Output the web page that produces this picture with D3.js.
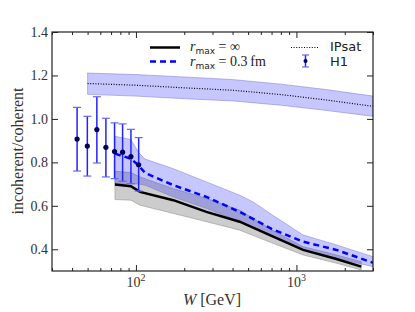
<!DOCTYPE html>
<html>
<head>
<meta charset="utf-8">
<script src="https://cdn.jsdelivr.net/npm/d3@7"></script>
<style>
body { margin:0; background:#fff; }
</style>
</head>
<body>
<script>
var width = 415, height = 312;
var SERIF = "Liberation Serif, DejaVu Serif, serif";
var SANS = "DejaVu Sans, Liberation Sans, sans-serif";

// H1 data
var h1W    = [43, 49.8, 57.1, 65, 73.6, 82.6, 93.1, 104];
var h1Val  = [0.907, 0.875, 0.951, 0.869, 0.850, 0.847, 0.827, 0.789];
var h1Lo   = [0.760, 0.737, 0.797, 0.733, 0.725, 0.713, 0.702, 0.668];
var h1Hi   = [1.053, 1.012, 1.102, 1.003, 0.982, 0.977, 0.952, 0.914];

// IPsat
var ipW    = [50, 100, 200, 400, 800, 1500, 3000];
var ipVal  = [1.163, 1.155, 1.143, 1.132, 1.112, 1.088, 1.058];
var ipHi   = [1.211, 1.204, 1.193, 1.181, 1.160, 1.136, 1.105];
var ipLo   = [1.113, 1.105, 1.093, 1.083, 1.063, 1.040, 1.012];

// r_max = inf
var infW   = [74, 93, 106, 171, 275, 443, 700, 1100, 1775, 2535];
var infVal = [0.698, 0.690, 0.664, 0.626, 0.572, 0.527, 0.462, 0.397, 0.355, 0.320];
var infHi  = [0.759, 0.753, 0.733, 0.679, 0.634, 0.580, 0.490, 0.412, 0.374, 0.343];
var infLo  = [0.629, 0.626, 0.603, 0.565, 0.527, 0.488, 0.430, 0.374, 0.336, 0.305];

// r_max = 0.3 fm
var r03W   = [74, 93, 104, 114, 171, 275, 443, 537, 700, 1100, 1775, 3000];
var r03Val = [0.840, 0.817, 0.786, 0.751, 0.695, 0.641, 0.572, 0.540, 0.494, 0.435, 0.397, 0.338];
var r03Hi  = [0.920, 0.905, 0.845, 0.815, 0.771, 0.710, 0.649, 0.618, 0.560, 0.466, 0.420, 0.366];
var r03Lo  = [0.700, 0.700, 0.700, 0.695, 0.641, 0.588, 0.527, 0.500, 0.458, 0.397, 0.359, 0.320];

var yTicks = [0.4, 0.6, 0.8, 1.0, 1.2, 1.4];

var svg = d3.select("body").append("svg")
            .attr("width", width).attr("height", height);

var x = d3.scaleLog().domain([30, 3000]).range([52, 373]);
var y = d3.scaleLinear().domain([0.3, 1.4]).range([271, 32]);

var defs = svg.append("defs");
defs.append("clipPath").attr("id", "clip")
    .append("rect").attr("x", 52).attr("y", 32).attr("width", 321).attr("height", 239);

var plot = svg.append("g").attr("clip-path", "url(#clip)");

function band(ws, lo, hi) {
  return d3.area()
    .x(function(d, i) { return x(ws[i]); })
    .y0(function(d, i) { return y(lo[i]); })
    .y1(function(d, i) { return y(hi[i]); })(ws);
}
function line(ws, vs) {
  return d3.line()
    .x(function(d, i) { return x(ws[i]); })
    .y(function(d, i) { return y(vs[i]); })(ws);
}

// bands
plot.append("path").attr("d", band(infW, infLo, infHi))
    .attr("fill", "#000").attr("fill-opacity", 0.2)
    .attr("stroke", "#888").attr("stroke-opacity", 0.5).attr("stroke-width", 1);
plot.append("path").attr("d", band(r03W, r03Lo, r03Hi))
    .attr("fill", "#0000ff").attr("fill-opacity", 0.22)
    .attr("stroke", "#7777cc").attr("stroke-opacity", 0.5).attr("stroke-width", 1);
plot.append("path").attr("d", band(ipW, ipLo, ipHi))
    .attr("fill", "#0000ff").attr("fill-opacity", 0.22)
    .attr("stroke", "#7777cc").attr("stroke-opacity", 0.5).attr("stroke-width", 1);

// lines
plot.append("path").attr("d", line(ipW, ipVal))
    .attr("fill", "none").attr("stroke", "#000").attr("stroke-width", 1.2)
    .attr("stroke-dasharray", "1,1.6");
plot.append("path").attr("d", line(infW, infVal))
    .attr("fill", "none").attr("stroke", "#000").attr("stroke-width", 2.5);
plot.append("path").attr("d", line(r03W, r03Val))
    .attr("fill", "none").attr("stroke", "#0000ff").attr("stroke-width", 2.5)
    .attr("stroke-dasharray", "6,4");

// H1 error bars
var eb = plot.selectAll(".h1").data(h1W).enter().append("g").attr("class", "h1");
eb.append("line")
  .attr("x1", function(d) { return x(d); }).attr("x2", function(d) { return x(d); })
  .attr("y1", function(d, i) { return y(h1Lo[i]); })
  .attr("y2", function(d, i) { return y(h1Hi[i]); })
  .attr("stroke", "#2222ff").attr("stroke-width", 1.5);
[h1Lo, h1Hi].forEach(function(arr) {
  eb.append("line")
    .attr("x1", function(d) { return x(d) - 4; }).attr("x2", function(d) { return x(d) + 4; })
    .attr("y1", function(d, i) { return y(arr[i]); })
    .attr("y2", function(d, i) { return y(arr[i]); })
    .attr("stroke", "#6666ff").attr("stroke-width", 1.2);
});
eb.append("circle")
  .attr("cx", function(d) { return x(d); })
  .attr("cy", function(d, i) { return y(h1Val[i]); })
  .attr("r", 2.6).attr("fill", "#00005a");

// axes frame
svg.append("rect").attr("x", 52).attr("y", 32).attr("width", 321).attr("height", 239)
   .attr("fill", "none").attr("stroke", "#222").attr("stroke-width", 1.2);

var minor = [];
[10, 100, 1000].forEach(function(dec) {
  for (var k = 2; k <= 9; k++) {
    var v = dec * k;
    if (v >= 30 && v <= 3000) minor.push(v);
  }
});

var xBottom = d3.axisBottom(x).tickValues([100, 1000]).tickSize(-6).tickFormat("");
var xBottomMinor = d3.axisBottom(x).tickValues(minor).tickSize(-3).tickFormat("");
var xTop = d3.axisTop(x).tickValues([100, 1000]).tickSize(-6).tickFormat("");
var xTopMinor = d3.axisTop(x).tickValues(minor).tickSize(-3).tickFormat("");
var yLeft = d3.axisLeft(y).tickValues(yTicks).tickSize(-6).tickFormat("");
var yRight = d3.axisRight(y).tickValues(yTicks).tickSize(-6).tickFormat("");

[[xBottom, "translate(0,271)"], [xBottomMinor, "translate(0,271)"],
 [xTop, "translate(0,32)"], [xTopMinor, "translate(0,32)"],
 [yLeft, "translate(52,0)"], [yRight, "translate(373,0)"]].forEach(function(a) {
  var g = svg.append("g").attr("transform", a[1]).call(a[0]);
  g.select(".domain").remove();
  g.selectAll("line").attr("stroke", "#222");
});

// tick labels
svg.selectAll(".ylab").data(yTicks).enter().append("text")
   .attr("x", 48).attr("y", function(d) { return y(d) + 5; })
   .attr("text-anchor", "end").attr("font-size", 14).attr("fill", "#333")
   .attr("font-family", SERIF)
   .text(function(d) { return d.toFixed(1); });

[[100, "2"], [1000, "3"]].forEach(function(t) {
  var tx = svg.append("text").attr("x", x(t[0])).attr("y", 287)
     .attr("text-anchor", "middle").attr("font-size", 14).attr("fill", "#333")
     .attr("font-family", SERIF);
  tx.append("tspan").text("10");
  tx.append("tspan").attr("dy", -6).attr("font-size", 10).text(t[1]);
});

// axis labels
svg.append("text")
   .attr("transform", "translate(23,151) rotate(-90)")
   .attr("text-anchor", "middle").attr("font-size", 16).attr("fill", "#333")
   .attr("font-family", SERIF)
   .text("incoherent/coherent");

var xl = svg.append("text").attr("x", 212).attr("y", 305)
   .attr("text-anchor", "middle").attr("font-size", 16).attr("fill", "#333")
   .attr("font-family", SERIF);
xl.append("tspan").attr("font-style", "italic").text("W");
xl.append("tspan").text(" [GeV]");

// legend
var lg = svg.append("g");
lg.append("line").attr("x1", 150).attr("x2", 180).attr("y1", 47.5).attr("y2", 47.5)
  .attr("stroke", "#000").attr("stroke-width", 2.5);
lg.append("line").attr("x1", 150).attr("x2", 180).attr("y1", 61.5).attr("y2", 61.5)
  .attr("stroke", "#0000ff").attr("stroke-width", 2.5).attr("stroke-dasharray", "6,4");

function rmaxLabel(yy, rest) {
  var t = lg.append("text").attr("x", 190).attr("y", yy).attr("font-size", 14)
            .attr("fill", "#222").attr("font-family", SERIF);
  t.append("tspan").attr("font-style", "italic").text("r");
  t.append("tspan").attr("dy", 3).attr("font-size", 9)
   .attr("font-family", SANS).text("max");
  t.append("tspan").attr("dy", -3).text(rest);
}
rmaxLabel(51, " = \u221E");
rmaxLabel(66, " = 0.3\u2009fm");

lg.append("line").attr("x1", 291).attr("x2", 319).attr("y1", 47.5).attr("y2", 47.5)
  .attr("stroke", "#000").attr("stroke-width", 1.2).attr("stroke-dasharray", "1,1.6");
lg.append("line").attr("x1", 305.5).attr("x2", 305.5).attr("y1", 55).attr("y2", 67)
  .attr("stroke", "#2222ff").attr("stroke-width", 1.5);
lg.append("line").attr("x1", 302).attr("x2", 309).attr("y1", 55).attr("y2", 55)
  .attr("stroke", "#6666ff").attr("stroke-width", 1.2);
lg.append("line").attr("x1", 302).attr("x2", 309).attr("y1", 67).attr("y2", 67)
  .attr("stroke", "#6666ff").attr("stroke-width", 1.2);
lg.append("circle").attr("cx", 305.5).attr("cy", 61).attr("r", 2).attr("fill", "#00005a");

lg.append("text").attr("x", 330).attr("y", 51).attr("font-size", 13)
  .attr("font-family", SANS).attr("fill", "#222").text("IPsat");
lg.append("text").attr("x", 330).attr("y", 66).attr("font-size", 13)
  .attr("font-family", SANS).attr("fill", "#222").text("H1");
</script>
</body>
</html>
